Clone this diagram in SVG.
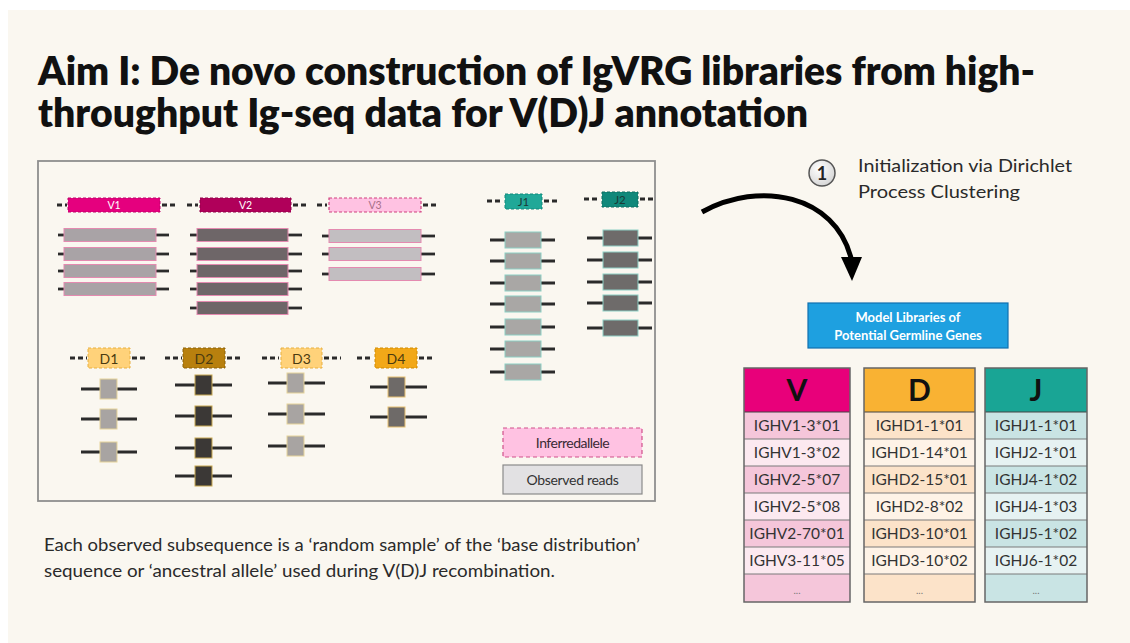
<svg xmlns="http://www.w3.org/2000/svg" width="1130" height="643" viewBox="0 0 1130 643">
  <defs>
    <style>
      .title { font-family: Lato, "Open Sans", sans-serif; font-weight: 800; font-size: 39px; fill: #111; }
      .body { font-family: Lato, "Open Sans", sans-serif; font-size: 17.5px; fill: #2a2a2a; }
      .dash { stroke: #2b2b2b; stroke-width: 3; stroke-dasharray: 5 3; fill: none; }
      .stub { stroke: #2b2b2b; stroke-width: 2.8; fill: none; }
      .glab { font-family: Lato, "Open Sans", sans-serif; font-size: 10.5px; text-anchor: middle; }
      .dlab { font-family: Lato, "Open Sans", sans-serif; font-size: 14px; text-anchor: middle; fill: #4a3a10; }
      .jlab { font-family: Lato, "Open Sans", sans-serif; font-size: 11.5px; text-anchor: middle; fill: #1a3a36; }
      .vr1 { fill: #a9a3a6; stroke: #e48ab0; stroke-width: 1; }
      .vr2 { fill: #6e6668; stroke: #e48ab0; stroke-width: 1; }
      .vr3 { fill: #c2bec1; stroke: #e48ab0; stroke-width: 1; }
      .dr1 { fill: #a8a4a2; stroke: #e6d49a; stroke-width: 1; }
      .dr2 { fill: #3b3836; stroke: #c8a850; stroke-width: 1; }
      .dr4 { fill: #6e6a68; stroke: #e6c070; stroke-width: 1; }
      .jr1 { fill: #a9a7a5; stroke: #8ccfc4; stroke-width: 1; }
      .jr2 { fill: #6e6b6a; stroke: #8ccfc4; stroke-width: 1; }
      .cell { font-family: Lato, "Open Sans", sans-serif; font-size: 15.5px; text-anchor: middle; fill: #333; }
      .head { font-family: Lato, "Open Sans", sans-serif; font-size: 30px; font-weight: 700; text-anchor: middle; fill: #111; }
      .rowline { stroke: #7a7a7a; stroke-width: 1.2; }
      .more { font-family: Lato, "Open Sans", sans-serif; font-size: 10px; text-anchor: middle; fill: #777; }
      .step { font-family: Lato, "Open Sans", sans-serif; font-size: 18px; fill: #2a2a2a; }
    </style>
    <radialGradient id="badge" cx="0.4" cy="0.35" r="0.7">
      <stop offset="0" stop-color="#ffffff"/>
      <stop offset="1" stop-color="#d4d4d4"/>
    </radialGradient>
  </defs>

  <!-- slide background -->
  <rect x="0" y="0" width="1130" height="643" fill="#ffffff"/>
  <rect x="8" y="10" width="1122" height="633" fill="#faf7f0"/>

  <!-- title -->
  <g id="title">
    <text class="title" x="38" y="85" textLength="997" lengthAdjust="spacingAndGlyphs">Aim I: De novo construction of IgVRG libraries from high-</text>
    <text class="title" x="38" y="127" textLength="770" lengthAdjust="spacingAndGlyphs">throughput Ig-seq data for V(D)J annotation</text>
  </g>

  <!-- frame around the gene sketch -->
  <rect id="frame" x="38" y="161" width="617" height="340" fill="#faf7f0" stroke="#8e8e8e" stroke-width="1.8"/>

  <!-- V genes -->
  <g id="gene-V1">
    <line class="dash" x1="57" y1="205" x2="67" y2="205"/>
    <line class="dash" x1="162" y1="205" x2="177" y2="205"/>
    <rect x="68" y="198" width="92" height="14" fill="#e5007e" stroke="#c0006a" stroke-width="1" stroke-dasharray="3 2"/>
    <text class="glab" x="114" y="209" fill="#ffffff">V1</text>
    <g class="stub">
      <line x1="58" y1="235" x2="64" y2="235"/><line x1="156" y1="235" x2="169" y2="235"/>
      <line x1="58" y1="254" x2="64" y2="254"/><line x1="156" y1="254" x2="169" y2="254"/>
      <line x1="58" y1="271" x2="64" y2="271"/><line x1="156" y1="271" x2="169" y2="271"/>
      <line x1="58" y1="289" x2="64" y2="289"/><line x1="156" y1="289" x2="169" y2="289"/>
    </g>
    <rect class="vr1" x="64" y="228.5" width="92" height="13"/>
    <rect class="vr1" x="64" y="247.5" width="92" height="13"/>
    <rect class="vr1" x="64" y="264.5" width="92" height="13"/>
    <rect class="vr1" x="64" y="282.5" width="92" height="13"/>
  </g>

  <g id="gene-V2">
    <line class="dash" x1="187" y1="205" x2="198" y2="205"/>
    <line class="dash" x1="293" y1="205" x2="308" y2="205"/>
    <rect x="200" y="198" width="91" height="14" fill="#b0005a" stroke="#900048" stroke-width="1" stroke-dasharray="3 2"/>
    <text class="glab" x="245.5" y="209" fill="#ffffff">V2</text>
    <g class="stub">
      <line x1="190" y1="235" x2="197" y2="235"/><line x1="288" y1="235" x2="302" y2="235"/>
      <line x1="190" y1="254" x2="197" y2="254"/><line x1="288" y1="254" x2="302" y2="254"/>
      <line x1="190" y1="271" x2="197" y2="271"/><line x1="288" y1="271" x2="302" y2="271"/>
      <line x1="190" y1="289" x2="197" y2="289"/><line x1="288" y1="289" x2="302" y2="289"/>
      <line x1="190" y1="308" x2="197" y2="308"/><line x1="288" y1="308" x2="302" y2="308"/>
    </g>
    <rect class="vr2" x="197" y="228.5" width="91" height="13"/>
    <rect class="vr2" x="197" y="247.5" width="91" height="13"/>
    <rect class="vr2" x="197" y="264.5" width="91" height="13"/>
    <rect class="vr2" x="197" y="282.5" width="91" height="13"/>
    <rect class="vr2" x="197" y="301.5" width="91" height="13"/>
  </g>

  <g id="gene-V3">
    <line class="dash" x1="317" y1="205" x2="327" y2="205"/>
    <line class="dash" x1="423" y1="205" x2="438" y2="205"/>
    <rect x="329" y="198" width="92" height="14" fill="#ffc2e2" stroke="#d0407e" stroke-width="1.2" stroke-dasharray="3 2"/>
    <text class="glab" x="375" y="209" fill="#a87088">V3</text>
    <g class="stub">
      <line x1="322" y1="236" x2="329" y2="236"/><line x1="421" y1="236" x2="435" y2="236"/>
      <line x1="322" y1="254" x2="329" y2="254"/><line x1="421" y1="254" x2="435" y2="254"/>
      <line x1="322" y1="274" x2="329" y2="274"/><line x1="421" y1="274" x2="435" y2="274"/>
    </g>
    <rect class="vr3" x="329" y="229.5" width="92" height="13"/>
    <rect class="vr3" x="329" y="247.5" width="92" height="13"/>
    <rect class="vr3" x="329" y="267.5" width="92" height="13"/>
  </g>

  <!-- D genes -->
  <g id="gene-D1">
    <line class="dash" x1="70" y1="358" x2="87" y2="358"/>
    <line class="dash" x1="132" y1="358" x2="148" y2="358"/>
    <rect x="88" y="348" width="42" height="20" fill="#ffd27a" stroke="#e8b040" stroke-width="1" stroke-dasharray="3 2"/>
    <text class="dlab" x="109" y="363.5">D1</text>
    <g class="stub">
      <line x1="81" y1="389" x2="137" y2="389"/>
      <line x1="81" y1="419" x2="137" y2="419"/>
      <line x1="81" y1="452" x2="137" y2="452"/>
    </g>
    <rect class="dr1" x="100" y="379" width="17" height="20"/>
    <rect class="dr1" x="100" y="409" width="17" height="20"/>
    <rect class="dr1" x="100" y="442" width="17" height="20"/>
  </g>

  <g id="gene-D2">
    <line class="dash" x1="165" y1="358" x2="182" y2="358"/>
    <line class="dash" x1="227" y1="358" x2="243" y2="358"/>
    <rect x="183" y="348" width="42" height="20" fill="#b8800e" stroke="#8a6008" stroke-width="1" stroke-dasharray="3 2"/>
    <text class="dlab" x="204" y="363.5" fill="#3a2a00">D2</text>
    <g class="stub">
      <line x1="175" y1="385" x2="232" y2="385"/>
      <line x1="175" y1="416" x2="232" y2="416"/>
      <line x1="175" y1="448" x2="232" y2="448"/>
      <line x1="175" y1="476" x2="232" y2="476"/>
    </g>
    <rect class="dr2" x="195" y="375" width="17" height="20"/>
    <rect class="dr2" x="195" y="406" width="17" height="20"/>
    <rect class="dr2" x="195" y="438" width="17" height="20"/>
    <rect class="dr2" x="195" y="466" width="17" height="20"/>
  </g>

  <g id="gene-D3">
    <line class="dash" x1="262" y1="358" x2="279" y2="358"/>
    <line class="dash" x1="324" y1="358" x2="341" y2="358"/>
    <rect x="281" y="348" width="41" height="20" fill="#ffd27a" stroke="#e8b040" stroke-width="1" stroke-dasharray="3 2"/>
    <text class="dlab" x="301.5" y="363.5">D3</text>
    <g class="stub">
      <line x1="268" y1="383" x2="325" y2="383"/>
      <line x1="268" y1="414" x2="325" y2="414"/>
      <line x1="268" y1="446" x2="325" y2="446"/>
    </g>
    <rect class="dr1" x="287" y="373" width="17" height="20"/>
    <rect class="dr1" x="287" y="404" width="17" height="20"/>
    <rect class="dr1" x="287" y="436" width="17" height="20"/>
  </g>

  <g id="gene-D4">
    <line class="dash" x1="357" y1="358" x2="373" y2="358"/>
    <line class="dash" x1="419" y1="358" x2="435" y2="358"/>
    <rect x="375" y="348" width="42" height="20" fill="#f2a818" stroke="#d08a00" stroke-width="1" stroke-dasharray="3 2"/>
    <text class="dlab" x="396" y="363.5">D4</text>
    <g class="stub">
      <line x1="370" y1="387" x2="427" y2="387"/>
      <line x1="370" y1="417" x2="427" y2="417"/>
    </g>
    <rect class="dr4" x="388" y="377" width="17" height="20"/>
    <rect class="dr4" x="388" y="407" width="17" height="20"/>
  </g>

  <!-- J genes -->
  <g id="gene-J1">
    <line class="dash" x1="487" y1="201" x2="503" y2="201"/>
    <line class="dash" x1="544" y1="201" x2="558" y2="201"/>
    <rect x="505" y="194" width="37" height="15" fill="#20a898" stroke="#10887a" stroke-width="1" stroke-dasharray="3 2"/>
    <text class="jlab" x="523.5" y="205.5">J1</text>
    <g class="stub">
      <line x1="490" y1="240" x2="555" y2="240"/>
      <line x1="490" y1="261" x2="555" y2="261"/>
      <line x1="490" y1="283" x2="555" y2="283"/>
      <line x1="490" y1="304" x2="555" y2="304"/>
      <line x1="490" y1="327" x2="555" y2="327"/>
      <line x1="490" y1="349" x2="555" y2="349"/>
      <line x1="490" y1="372" x2="555" y2="372"/>
    </g>
    <rect class="jr1" x="505" y="232" width="36" height="16"/>
    <rect class="jr1" x="505" y="253" width="36" height="16"/>
    <rect class="jr1" x="505" y="275" width="36" height="16"/>
    <rect class="jr1" x="505" y="296" width="36" height="16"/>
    <rect class="jr1" x="505" y="319" width="36" height="16"/>
    <rect class="jr1" x="505" y="341" width="36" height="16"/>
    <rect class="jr1" x="505" y="364" width="36" height="16"/>
  </g>

  <g id="gene-J2">
    <line class="dash" x1="584" y1="199" x2="600" y2="199"/>
    <line class="dash" x1="640" y1="199" x2="655" y2="199"/>
    <rect x="602" y="192" width="36" height="15" fill="#10887a" stroke="#0a6a5e" stroke-width="1" stroke-dasharray="3 2"/>
    <text class="jlab" x="620" y="203.5">J2</text>
    <g class="stub">
      <line x1="587" y1="238" x2="652" y2="238"/>
      <line x1="587" y1="260" x2="652" y2="260"/>
      <line x1="587" y1="282" x2="652" y2="282"/>
      <line x1="587" y1="303" x2="652" y2="303"/>
      <line x1="587" y1="328" x2="652" y2="328"/>
    </g>
    <rect class="jr2" x="603" y="230" width="35" height="16"/>
    <rect class="jr2" x="603" y="252" width="35" height="16"/>
    <rect class="jr2" x="603" y="274" width="35" height="16"/>
    <rect class="jr2" x="603" y="295" width="35" height="16"/>
    <rect class="jr2" x="603" y="320" width="35" height="16"/>
  </g>

  <!-- legend -->
  <g id="legend">
    <rect x="503" y="428" width="139" height="29" fill="#ffc2e2" stroke="#d0508a" stroke-width="1.2" stroke-dasharray="4 3"/>
    <text x="572.5" y="447.5" font-family="Lato, 'Open Sans', sans-serif" font-size="14" text-anchor="middle" fill="#3a2a34" letter-spacing="-0.5">Inferredallele</text>
    <rect x="503" y="465" width="139" height="29" fill="#e2e1e3" stroke="#8a8a8a" stroke-width="1.2"/>
    <text x="572.5" y="484.5" font-family="Lato, 'Open Sans', sans-serif" font-size="14" text-anchor="middle" fill="#333" letter-spacing="-0.3">Observed reads</text>
  </g>

  <!-- caption under the sketch -->
  <g id="caption">
    <text class="body" x="44" y="551" textLength="596" lengthAdjust="spacingAndGlyphs">Each observed subsequence is a ‘random sample’ of the ‘base distribution’</text>
    <text class="body" x="44" y="577" textLength="511" lengthAdjust="spacingAndGlyphs">sequence or ‘ancestral allele’ used during V(D)J recombination.</text>
  </g>

  <!-- step marker -->
  <g id="step-1">
    <circle cx="822" cy="173" r="13" fill="url(#badge)" stroke="#555" stroke-width="1.5"/>
    <text x="822" y="179.5" font-family="Lato, 'Open Sans', sans-serif" font-size="18" font-weight="700" text-anchor="middle" fill="#222">1</text>
    <text class="step" x="858" y="172" textLength="214" lengthAdjust="spacingAndGlyphs">Initialization via Dirichlet</text>
    <text class="step" x="858" y="198" textLength="162" lengthAdjust="spacingAndGlyphs">Process Clustering</text>
  </g>

  <!-- connector -->
  <g id="connectors">
    <path d="M702,212 C760,180 835,195 851,258" fill="none" stroke="#000" stroke-width="5"/>
    <polygon points="841,257 862,257 852,281" fill="#000"/>
  </g>

  <!-- model library box -->
  <g id="model-libraries">
    <rect x="808" y="303" width="200" height="45" fill="#1ea0e0" stroke="#1070b0" stroke-width="1.2"/>
    <text x="908" y="322" font-family="Lato, 'Open Sans', sans-serif" font-size="13" font-weight="700" text-anchor="middle" fill="#ffffff">Model Libraries of</text>
    <text x="908" y="339.5" font-family="Lato, 'Open Sans', sans-serif" font-size="13" font-weight="700" text-anchor="middle" fill="#ffffff">Potential Germline Genes</text>
  </g>

  <!-- V library column -->
  <g id="table-V">
    <rect x="744" y="368" width="106" height="44" fill="#e8007a"/>
    <rect x="744" y="412" width="106" height="27" fill="#f5c6da"/>
    <rect x="744" y="439" width="106" height="27" fill="#fce9f0"/>
    <rect x="744" y="466" width="106" height="27" fill="#f5c6da"/>
    <rect x="744" y="493" width="106" height="27" fill="#fce9f0"/>
    <rect x="744" y="520" width="106" height="27" fill="#f5c6da"/>
    <rect x="744" y="547" width="106" height="27" fill="#fce9f0"/>
    <rect x="744" y="574" width="106" height="28" fill="#f5c6da"/>
    <g class="rowline">
      <line x1="744" y1="412" x2="850" y2="412" stroke="#444"/>
      <line x1="744" y1="439" x2="850" y2="439"/>
      <line x1="744" y1="466" x2="850" y2="466"/>
      <line x1="744" y1="493" x2="850" y2="493"/>
      <line x1="744" y1="520" x2="850" y2="520"/>
      <line x1="744" y1="547" x2="850" y2="547"/>
      <line x1="744" y1="574" x2="850" y2="574"/>
    </g>
    <rect x="744" y="368" width="106" height="234" fill="none" stroke="#666" stroke-width="1.5"/>
    <text class="head" x="797" y="401">V</text>
    <text class="cell" x="797" y="431">IGHV1-3*01</text>
    <text class="cell" x="797" y="458">IGHV1-3*02</text>
    <text class="cell" x="797" y="485">IGHV2-5*07</text>
    <text class="cell" x="797" y="512">IGHV2-5*08</text>
    <text class="cell" x="797" y="539">IGHV2-70*01</text>
    <text class="cell" x="797" y="566">IGHV3-11*05</text>
    <text class="more" x="797" y="594">...</text>
  </g>

  <!-- D library column -->
  <g id="table-D">
    <rect x="864" y="368" width="111" height="44" fill="#f9b233"/>
    <rect x="864" y="412" width="111" height="27" fill="#fce3c9"/>
    <rect x="864" y="439" width="111" height="27" fill="#fef3e7"/>
    <rect x="864" y="466" width="111" height="27" fill="#fce3c9"/>
    <rect x="864" y="493" width="111" height="27" fill="#fef3e7"/>
    <rect x="864" y="520" width="111" height="27" fill="#fce3c9"/>
    <rect x="864" y="547" width="111" height="27" fill="#fef3e7"/>
    <rect x="864" y="574" width="111" height="28" fill="#fce3c9"/>
    <g class="rowline">
      <line x1="864" y1="412" x2="975" y2="412" stroke="#444"/>
      <line x1="864" y1="439" x2="975" y2="439"/>
      <line x1="864" y1="466" x2="975" y2="466"/>
      <line x1="864" y1="493" x2="975" y2="493"/>
      <line x1="864" y1="520" x2="975" y2="520"/>
      <line x1="864" y1="547" x2="975" y2="547"/>
      <line x1="864" y1="574" x2="975" y2="574"/>
    </g>
    <rect x="864" y="368" width="111" height="234" fill="none" stroke="#666" stroke-width="1.5"/>
    <text class="head" x="919.5" y="401">D</text>
    <text class="cell" x="919.5" y="431">IGHD1-1*01</text>
    <text class="cell" x="919.5" y="458">IGHD1-14*01</text>
    <text class="cell" x="919.5" y="485">IGHD2-15*01</text>
    <text class="cell" x="919.5" y="512">IGHD2-8*02</text>
    <text class="cell" x="919.5" y="539">IGHD3-10*01</text>
    <text class="cell" x="919.5" y="566">IGHD3-10*02</text>
    <text class="more" x="919.5" y="594">...</text>
  </g>

  <!-- J library column -->
  <g id="table-J">
    <rect x="985" y="368" width="102" height="44" fill="#19a595"/>
    <rect x="985" y="412" width="102" height="27" fill="#c9e4e4"/>
    <rect x="985" y="439" width="102" height="27" fill="#e6f2f2"/>
    <rect x="985" y="466" width="102" height="27" fill="#c9e4e4"/>
    <rect x="985" y="493" width="102" height="27" fill="#e6f2f2"/>
    <rect x="985" y="520" width="102" height="27" fill="#c9e4e4"/>
    <rect x="985" y="547" width="102" height="27" fill="#e6f2f2"/>
    <rect x="985" y="574" width="102" height="28" fill="#c9e4e4"/>
    <g class="rowline">
      <line x1="985" y1="412" x2="1087" y2="412" stroke="#444"/>
      <line x1="985" y1="439" x2="1087" y2="439"/>
      <line x1="985" y1="466" x2="1087" y2="466"/>
      <line x1="985" y1="493" x2="1087" y2="493"/>
      <line x1="985" y1="520" x2="1087" y2="520"/>
      <line x1="985" y1="547" x2="1087" y2="547"/>
      <line x1="985" y1="574" x2="1087" y2="574"/>
    </g>
    <rect x="985" y="368" width="102" height="234" fill="none" stroke="#666" stroke-width="1.5"/>
    <text class="head" x="1036" y="401">J</text>
    <text class="cell" x="1036" y="431">IGHJ1-1*01</text>
    <text class="cell" x="1036" y="458">IGHJ2-1*01</text>
    <text class="cell" x="1036" y="485">IGHJ4-1*02</text>
    <text class="cell" x="1036" y="512">IGHJ4-1*03</text>
    <text class="cell" x="1036" y="539">IGHJ5-1*02</text>
    <text class="cell" x="1036" y="566">IGHJ6-1*02</text>
    <text class="more" x="1036" y="594">...</text>
  </g>
</svg>
